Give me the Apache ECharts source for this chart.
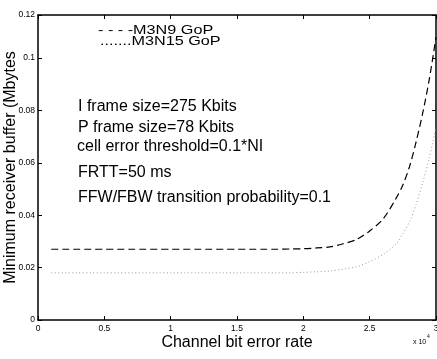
<!DOCTYPE html>
<html>
<head>
<meta charset="utf-8">
<script src="https://cdn.jsdelivr.net/npm/echarts@6/dist/echarts.min.js"></script>
<style>html,body{margin:0;padding:0;background:#fff}#c{width:437px;height:359px}</style>
</head>
<body>
<div id="c"></div>
<script>
// Channel bit error rate (x 10^-4)
const xValues = [0.1,0.2,0.3,0.4,0.5,0.6,0.7,0.8,0.9,1.0,1.1,1.2,1.3,1.4,1.5,1.6,1.7,1.8,1.9,2.0,2.1,2.2,2.3,2.4,2.5,2.6,2.7,2.75,2.8,2.85,2.9,2.95,3.0];
const m3n9 = [0.027,0.027,0.027,0.027,0.027,0.027,0.027,0.027,0.027,0.027,0.027,0.027,0.027,0.027,0.027,0.027,0.027,0.027,0.0271,0.0272,0.0275,0.0279,0.0291,0.0307,0.0340,0.0385,0.0465,0.0515,0.0585,0.068,0.079,0.092,0.108];
const m3n15 = [0.018,0.018,0.018,0.018,0.018,0.018,0.018,0.018,0.018,0.018,0.018,0.018,0.018,0.018,0.018,0.018,0.018,0.018,0.018,0.0182,0.0184,0.0187,0.0194,0.0203,0.0223,0.0250,0.0290,0.0330,0.0375,0.0440,0.0525,0.062,0.0735];
const xTicks = [0,0.5,1,1.5,2,2.5,3];
const yTickLabels = ['0','0.02','0.04','0.06','0.08','0.1','0.12'];
const legendLines = ['- - - -M3N9 GoP', '.......M3N15 GoP'];
const notes = ['I frame size=275 Kbits','P frame size=78 Kbits','cell error threshold=0.1*NI','FRTT=50 ms','FFW/FBW transition probability=0.1'];

const chart = echarts.init(document.getElementById('c'));
const font = 'Liberation Sans, Arial, Helvetica, sans-serif';
const yMax = 0.1164;
function yFmt(v){ if (v > 0.11) return yTickLabels[6]; const i = Math.round(v/0.02); return yTickLabels[i]; }
const tickStyle = {show:true, inside:true, length:4, lineStyle:{color:'#000', width:1}};
const lineStyle = {color:'#000', width:1.5};
chart.setOption({
  animation:false,
  backgroundColor:'#fff',
  grid:{left:38, right:1, top:15, bottom:39, outerBoundsMode:'none', containLabel:false},
  xAxis:[{
    type:'value', min:0, max:3, interval:0.5, position:'bottom',
    axisLine:{show:true, onZero:false, lineStyle:lineStyle},
    axisTick:tickStyle,
    splitLine:{show:false},
    axisLabel:{color:'#000', fontSize:8.5, fontFamily:font, margin:4, formatter:v=>String(xTicks[Math.round(v/0.5)])},
    name:'Channel bit error rate', nameLocation:'middle', nameGap:15, nameMoveOverlap:false,
    nameTextStyle:{color:'#000', fontSize:16, fontFamily:font}
  },{
    type:'value', min:0, max:3, interval:0.5, position:'top',
    axisLine:{show:true, onZero:false, lineStyle:lineStyle},
    axisTick:tickStyle, axisLabel:{show:false}, splitLine:{show:false}
  }],
  yAxis:[{
    type:'value', min:0, max:yMax, interval:0.02, position:'left',
    axisLine:{show:true, onZero:false, lineStyle:lineStyle},
    axisTick:tickStyle,
    splitLine:{show:false},
    axisLabel:{color:'#000', fontSize:8.5, fontFamily:font, margin:3, formatter:yFmt, showMaxLabel:true},
    name:'Minimum receiver buffer (Mbytes', nameLocation:'middle', nameGap:19, nameMoveOverlap:false,
    nameTextStyle:{color:'#000', fontSize:16, fontFamily:font}
  },{
    type:'value', min:0, max:yMax, interval:0.02, position:'right',
    axisLine:{show:true, onZero:false, lineStyle:lineStyle},
    axisTick:tickStyle, axisLabel:{show:false}, splitLine:{show:false}
  }],
  series:[{
    type:'line', name:'M3N9 GoP', showSymbol:false, smooth:0.3,
    data:xValues.map((x,i)=>[x,m3n9[i]]),
    lineStyle:{color:'#000', width:1.2, type:[7,4]}
  },{
    type:'line', name:'M3N15 GoP', showSymbol:false, smooth:0.3,
    data:xValues.map((x,i)=>[x,m3n15[i]]),
    lineStyle:{color:'#999', width:1, type:[1,2.5]}
  }],
  graphic:[
    {type:'text', x:98, y:31, scaleX:1.35, style:{text:legendLines[0], font:'12px '+font, fill:'#000', verticalAlign:'middle'}},
    {type:'text', x:100, y:42, scaleX:1.35, style:{text:legendLines[1], font:'12px '+font, fill:'#000', verticalAlign:'middle'}},
    {type:'text', x:78, y:107, style:{text:notes[0], font:'16px '+font, fill:'#000', verticalAlign:'middle'}},
    {type:'text', x:78, y:128, style:{text:notes[1], font:'16px '+font, fill:'#000', verticalAlign:'middle'}},
    {type:'text', x:77, y:147, style:{text:notes[2], font:'16px '+font, fill:'#000', verticalAlign:'middle'}},
    {type:'text', x:78, y:173, style:{text:notes[3], font:'16px '+font, fill:'#000', verticalAlign:'middle'}},
    {type:'text', x:78, y:198, style:{text:notes[4], font:'16px '+font, fill:'#000', verticalAlign:'middle'}},
    {type:'text', x:413, y:342, style:{text:'x 10', font:'7px '+font, fill:'#000', verticalAlign:'middle'}},
    {type:'text', x:427, y:337, style:{text:'4', font:'5px '+font, fill:'#000', verticalAlign:'middle'}}
  ]
});
</script>
</body>
</html>
